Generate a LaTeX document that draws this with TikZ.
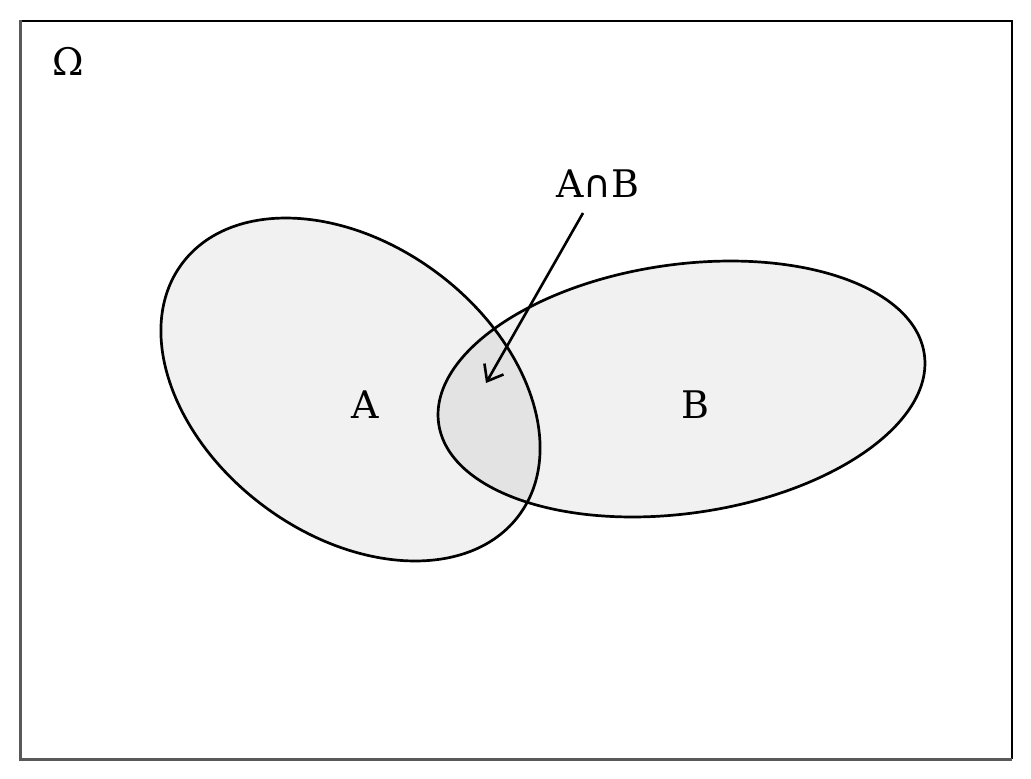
\documentclass[tikz,border=0pt]{standalone}
\usepackage{fontspec}
\setmainfont{DejaVu Serif}
\newfontfamily\capfont{DejaVu Sans}
\usetikzlibrary{arrows.meta}
\begin{document}
\begin{tikzpicture}[x=1pt,y=1pt,
  setshape/.style={draw=black,line width=2.7pt,fill=black,fill opacity=0.055},
  lbl/.style={font=\fontsize{38}{40}\selectfont,inner sep=0pt,text=black},
  pointer/.style={line width=2.6pt,-{Straight Barb[length=14pt,width=22pt,line width=2.6pt]}}]
\useasboundingbox (0,0) rectangle (1031,-779);
\fill[white] (0,0) rectangle (1031,-779);
% frame
\draw[line width=2pt,black] (20,-20.5) -- (1011.5,-20.5) -- (1011.5,-759);
\draw[line width=3pt,black!65] (20.5,-20) -- (20.5,-759.5) -- (1012,-759.5);
% sets
\draw[setshape] (350.5,-389.5) ellipse[x radius=210.3,y radius=145.3,rotate=-36.8];
\draw[setshape] (681.5,-389) ellipse[x radius=245.3,y radius=124.4,rotate=8.15];
% labels
\node[lbl] (omega) at (68,-61) {Ω};
\node[lbl] (A) at (365,-405) {A};
\node[lbl] (B) at (695,-405) {B};
\node[lbl] (AB) at (598,-184) {A{\capfont ∩}B};
\coordinate (arrS) at (583,-213);
\coordinate (arrE) at (486,-383);
\draw[pointer] (arrS) -- (arrE);
\end{tikzpicture}
\end{document}
